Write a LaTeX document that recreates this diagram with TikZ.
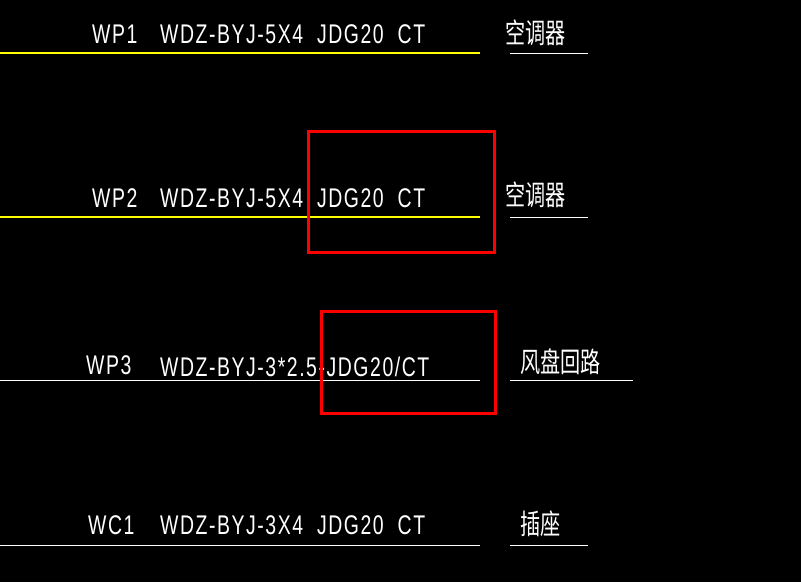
\documentclass[tikz,border=0pt]{standalone}
\usepackage{fontspec}
\setmainfont{Liberation Sans}[LetterSpace=8]
\newfontfamily\cjk{Noto Sans CJK SC}
\definecolor{cadyellow}{RGB}{255,255,0}
\begin{document}
\begin{tikzpicture}[x=1pt,y=-1pt,
  txt/.style={anchor=west,inner sep=0pt,text=white,font=\fontsize{27}{27}\selectfont,xscale=0.72},
  ctxt/.style={anchor=west,inner sep=0pt,text=white,font=\cjk\fontsize{28}{28}\selectfont,xscale=0.72},
  yl/.style={draw=cadyellow,line width=1.3pt},
  wl/.style={draw=white,line width=0.8pt},
  redbox/.style={draw=red,line width=3.5pt}]
\fill[black] (0,0) rectangle (801,582);
\useasboundingbox (0,0) rectangle (801,582);
% row 1
\node[txt] (a1) at (92,34) {WP1};
\node[txt] (b1) at (160,34) {WDZ-BYJ-5X4\ \ JDG20\ \ CT};
\node[ctxt] (c1) at (505,33) {空调器};
\coordinate (l1a) at (0,53); \coordinate (l1b) at (480,53);
\draw[yl] (l1a) -- (l1b);
\coordinate (u1a) at (510,53); \coordinate (u1b) at (588,53);
\draw[wl] (u1a) -- (u1b);
% row 2
\node[txt] (a2) at (92,198) {WP2};
\node[txt] (b2) at (160,198) {WDZ-BYJ-5X4\ \ JDG20\ \ CT};
\node[ctxt] (c2) at (505,195) {空调器};
\coordinate (l2a) at (0,217); \coordinate (l2b) at (480,217);
\draw[yl] (l2a) -- (l2b);
\coordinate (u2a) at (510,217); \coordinate (u2b) at (588,217);
\draw[wl] (u2a) -- (u2b);
% row 3
\node[txt] (a3) at (86,365) {WP3};
\node[txt] (b3) at (160,367) {WDZ-BYJ-3*2.5-JDG20/CT};
\node[ctxt] (c3) at (520,362) {风盘回路};
\coordinate (l3a) at (0,380); \coordinate (l3b) at (480,380);
\draw[wl] (l3a) -- (l3b);
\coordinate (u3a) at (510,380); \coordinate (u3b) at (633,380);
\draw[wl] (u3a) -- (u3b);
% row 4
\node[txt] (a4) at (88,525) {WC1};
\node[txt] (b4) at (160,525) {WDZ-BYJ-3X4\ \ JDG20\ \ CT};
\node[ctxt] (c4) at (520,524) {插座};
\coordinate (l4a) at (0,545); \coordinate (l4b) at (480,545);
\draw[wl] (l4a) -- (l4b);
\coordinate (u4a) at (510,545); \coordinate (u4b) at (588,545);
\draw[wl] (u4a) -- (u4b);
% red boxes
\node[redbox,minimum width=186pt,minimum height=121pt,inner sep=0pt] (r1) at (401.5,192) {};
\node[redbox,minimum width=174pt,minimum height=102pt,inner sep=0pt] (r2) at (408.5,362.5) {};
\end{tikzpicture}
\end{document}
